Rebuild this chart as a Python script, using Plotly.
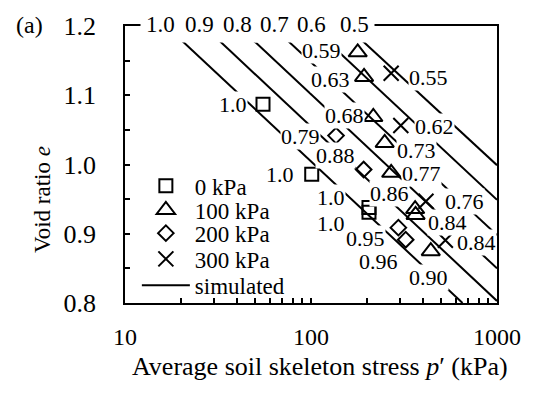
import numpy as np
import plotly.graph_objects as go

# ---- measured states (p' in kPa, void ratio e, degree of saturation label) ----
sq_p = [55.2, 100.9, 205.0, 205.0]          # suction 0 kPa
sq_e = [1.087, 0.986, 0.938, 0.931]
sq_sr = ["1.0", "1.0", "1.0", "1.0"]

tri_p = [178.3, 192.9, 216.3, 249.0, 269.8, 363.0, 365.0, 440.6]   # suction 100 kPa
tri_e = [1.162, 1.1265, 1.0686, 1.0311, 0.988, 0.9357, 0.9272, 0.8749]
tri_sr = ["0.59", "0.63", "0.68", "0.73", "0.77", "0.86", "0.84", "0.90"]

dia_p = [136.3, 191.9, 295.0, 323.0]         # suction 200 kPa
dia_e = [1.0417, 0.9927, 0.9088, 0.8914]
dia_sr = ["0.79", "0.88", "0.95", "0.96"]

crs_p = [269.8, 304.0, 415.0, 527.8]         # suction 300 kPa
crs_e = [1.1317, 1.0563, 0.947, 0.8905]
crs_sr = ["0.55", "0.62", "0.76", "0.84"]

# ---- simulated constant-saturation lines (end points) ----
sim_sr = ["1.0", "0.9", "0.8", "0.7", "0.6", "0.5"]
sim_p0 = [16.65, 26.5, 40.5, 61.7, 100.0, 155.0]
sim_e0 = [1.2, 1.2, 1.2, 1.2, 1.2, 1.2]
sim_p1 = [652.7, 1000.0, 1000.0, 1000.0, 1000.0, 1000.0]
sim_e1 = [0.8, 0.803, 0.850, 0.898, 0.949, 0.999]

x_ticks = [10, 100, 1000]
y_ticks = [0.8, 0.9, 1.0, 1.1, 1.2]

# ---- styling ----
FONT = "Liberation Serif"
BLACK = "black"
LAB_SIZE = 22
# label placement per point: (xanchor, xshift px, downward px)
sq_lab = [("right", -15, 0), ("right", -16.7, 0), ("right", -22.5, -10), ("right", -22.5, 11)]
tri_lab = [("right", -16, -2), ("right", -13.5, 3), ("right", -8.3, -1), ("left", 11.3, 8),
           ("left", 9.7, 1), ("right", -5, -16), ("left", 11, 8), ("center", -2.3, 26)]
dia_lab = [("right", -14.7, 1), ("right", -8, -14.5), ("right", -12.5, 10.7), ("right", -6.6, 21.5)]
crs_lab = [("left", 16.7, 4), ("left", 13.4, 1), ("left", 17.7, 0), ("left", 11, 2)]
top_lab_p = [15.6, 25.3, 40.5, 64.0, 100.0, 172.0]
# one legend box per entry so the row pitch can follow the printed layout
leg_rows = [0.423, 0.3357, 0.252, 0.159, 0.0636]
leg_names = ["legend", "legend2", "legend3", "legend4", "legend5"]

fig = go.Figure()

for i, s in enumerate(sim_sr):
    fig.add_trace(go.Scatter(
        x=[sim_p0[i], sim_p1[i]], y=[sim_e0[i], sim_e1[i]], mode="lines",
        line=dict(color=BLACK, width=2), name="simulated", legend=leg_names[4],
        showlegend=(i == 0), hoverinfo="skip"))

series = [
    ("0 kPa", sq_p, sq_e, "square-open", 13),
    ("100 kPa", tri_p, tri_e, "triangle-up-open", 16),
    ("200 kPa", dia_p, dia_e, "diamond-open", 12),
    ("300 kPa", crs_p, crs_e, "x-thin-open", 15),
]
for k, (name, px, py, sym, sz) in enumerate(series):
    fig.add_trace(go.Scatter(
        x=px, y=py, mode="markers", name=name, legend=leg_names[k],
        marker=dict(symbol=sym, size=sz, color=BLACK, line=dict(color=BLACK, width=2))))

ann = []
for px, py, labs, pos in [(sq_p, sq_e, sq_sr, sq_lab), (tri_p, tri_e, tri_sr, tri_lab),
                          (dia_p, dia_e, dia_sr, dia_lab), (crs_p, crs_e, crs_sr, crs_lab)]:
    for p, e, t, (anc, dx, dy) in zip(px, py, labs, pos):
        ann.append(dict(x=np.log10(p), y=e, xref="x", yref="y", text=t, showarrow=False,
                        xanchor=anc, yanchor="middle", xshift=dx, yshift=-dy,
                        bgcolor="white", borderpad=0,
                        font=dict(family=FONT, size=LAB_SIZE, color=BLACK)))

for p, t in zip(top_lab_p, sim_sr):
    ann.append(dict(x=np.log10(p), y=1.0, xref="x", yref="paper", text=t, showarrow=False,
                    xanchor="center", yanchor="middle", yshift=2,
                    bgcolor="white", borderpad=5,
                    font=dict(family=FONT, size=23, color=BLACK)))

ann.append(dict(x=-0.2199, y=0.3728, xref="paper", yref="paper", text="Void ratio <i>e</i>",
                textangle=-90, showarrow=False, xanchor="center", yanchor="middle",
                font=dict(family=FONT, size=23, color=BLACK)))
ann.append(dict(x=0.5236, y=-0.2297, xref="paper", yref="paper",
                text="Average soil skeleton stress <i>p</i>′ (kPa)",
                showarrow=False, xanchor="center", yanchor="middle",
                font=dict(family=FONT, size=26, color=BLACK)))
ann.append(dict(x=-0.2565, y=1.0035, xref="paper", yref="paper", text="(a)",
                showarrow=False, xanchor="center", yanchor="middle",
                font=dict(family=FONT, size=24, color=BLACK)))

# blank out the frame between the last two line labels along the top edge
gap_x0 = (np.log10(top_lab_p[4]) - 1) / 2
gap_x1 = (np.log10(top_lab_p[5]) - 1) / 2
shapes = [dict(type="rect", xref="paper", yref="paper", x0=gap_x0, x1=gap_x1,
               y0=0.99, y1=1.012, fillcolor="white", line=dict(width=0), layer="above")]

axis_common = dict(showline=True, linecolor=BLACK, linewidth=1.5, mirror=True,
                   showgrid=False, zeroline=False, ticks="inside", ticklen=5,
                   tickwidth=1.5, tickcolor=BLACK)

legend_style = dict(x=0.0319, xanchor="left", yanchor="middle",
                    bgcolor="rgba(0,0,0,0)", itemwidth=48,
                    font=dict(family=FONT, size=23, color=BLACK))
legends = {name: dict(y=yv, **legend_style) for name, yv in zip(leg_names, leg_rows)}

fig.update_layout(
    width=533, height=394, margin=dict(l=125, r=26, t=20, b=91, pad=0),
    paper_bgcolor="white", plot_bgcolor="white",
    font=dict(family=FONT, color=BLACK),
    showlegend=True,
    xaxis=dict(type="log", range=[1, 3], tickvals=x_ticks,
               ticktext=[str(v) for v in x_ticks], ticklabelstandoff=11,
               tickfont=dict(family=FONT, size=24, color=BLACK),
               minor=dict(tickvals=[20, 30, 40, 50, 60, 70, 80, 90,
                                    200, 300, 400, 500, 600, 700, 800, 900],
                          ticks="inside", ticklen=5, tickwidth=1.5, tickcolor=BLACK),
               **axis_common),
    yaxis=dict(range=[0.8, 1.2], tickvals=y_ticks, tickformat=".1f",
               ticklabelstandoff=22,
               tickfont=dict(family=FONT, size=26, color=BLACK),
               minor=dict(dtick=0.05, tick0=0.8, ticks="inside", ticklen=5,
                          tickwidth=1.5, tickcolor=BLACK),
               **axis_common),
    shapes=shapes,
    annotations=ann,
    **legends,
)

fig.write_html("out.html")
